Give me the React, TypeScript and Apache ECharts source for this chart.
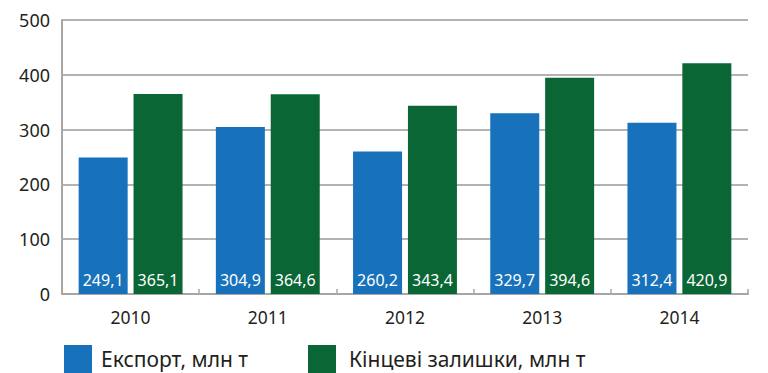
import React, { useEffect, useRef } from "react";
import * as echarts from "echarts";

const years = ["2010", "2011", "2012", "2013", "2014"];
const exportVals = [249.1, 304.9, 260.2, 329.7, 312.4];
const stockVals = [365.1, 364.6, 343.4, 394.6, 420.9];
const seriesNames = ["Експорт, млн т", "Кінцеві залишки, млн т"];
const yTicks = { min: 0, max: 500, interval: 100 };

const FONT = "'Noto Sans', 'Open Sans', sans-serif";
const BLUE = "#1771bb";
const GREEN = "#0b6636";

export default function App() {
  const ref = useRef<HTMLDivElement>(null);
  useEffect(() => {
    if (!ref.current) return;
    const chart = echarts.init(ref.current, undefined, { renderer: "svg" });
    const label = {
      show: true,
      position: "insideBottom",
      distance: 6,
      color: "#ffffff",
      fontFamily: FONT,
      fontSize: 16,
      formatter: (p: any) => p.value.toFixed(1).replace(".", ","),
    };
    chart.setOption({
      animation: false,
      grid: { left: 62, right: 20, top: 20, bottom: 79, containLabel: false },
      legend: [
        {
          data: [seriesNames[0]],
          left: 59,
          top: 340,
          itemWidth: 28,
          itemHeight: 28,
          icon: "rect",
          textStyle: { fontFamily: FONT, fontSize: 21, color: "#231f20", padding: [0, 0, 0, 4] },
        },
        {
          data: [seriesNames[1]],
          left: 303,
          top: 340,
          itemWidth: 28,
          itemHeight: 28,
          icon: "rect",
          textStyle: { fontFamily: FONT, fontSize: 21, color: "#231f20", padding: [0, 0, 0, 8] },
        },
      ],
      xAxis: {
        type: "category",
        data: years,
        axisLine: { show: true, lineStyle: { color: "#a6a6a6", width: 2 } },
        axisTick: { show: true, inside: true, length: 5, lineStyle: { color: "#a6a6a6", width: 1.5 } },
        axisLabel: { fontFamily: FONT, fontSize: 17.5, color: "#231f20", margin: 14 },
      },
      yAxis: {
        type: "value",
        min: yTicks.min,
        max: yTicks.max,
        interval: yTicks.interval,
        axisLine: { show: true, lineStyle: { color: "#a6a6a6", width: 2 } },
        axisTick: { show: false },
        splitLine: { show: true, lineStyle: { color: "#b3b3b3", width: 2 } },
        axisLabel: { fontFamily: FONT, fontSize: 18, color: "#231f20", margin: 12 },
      },
      series: [
        {
          name: seriesNames[0],
          type: "bar",
          data: exportVals,
          barWidth: 49,
          barGap: "12%",
          itemStyle: { color: BLUE },
          label,
        },
        {
          name: seriesNames[1],
          type: "bar",
          data: stockVals,
          barWidth: 49,
          barGap: "12%",
          itemStyle: { color: GREEN },
          label,
        },
      ],
    });
    return () => chart.dispose();
  }, []);
  return (
    <div
      ref={ref}
      style={{ position: "absolute", left: 0, top: 0, width: 768, height: 373 }}
    />
  );
}
